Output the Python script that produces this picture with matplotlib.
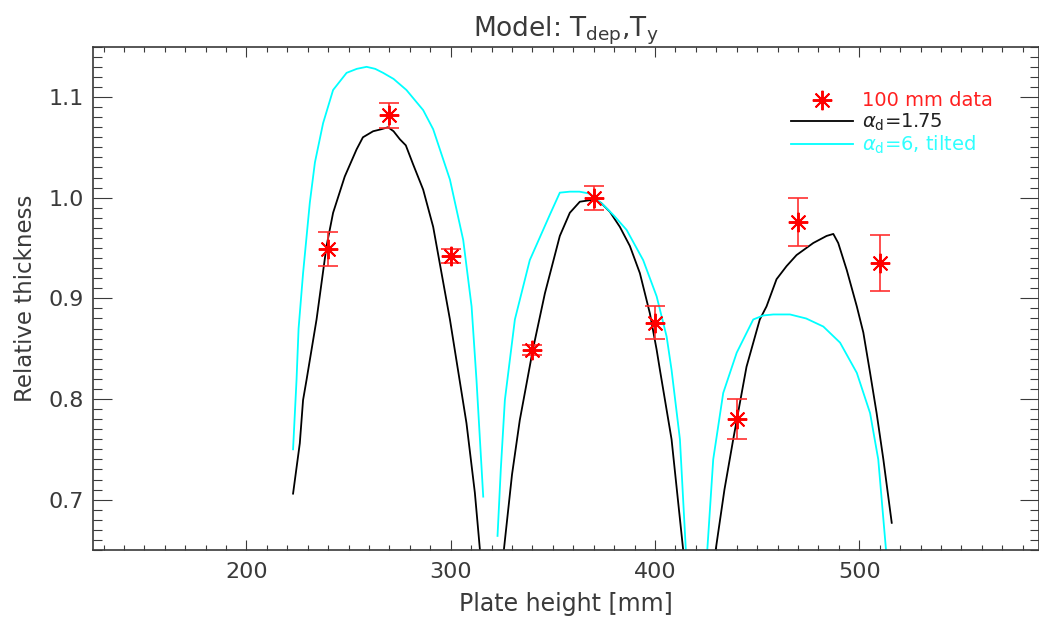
import numpy as np
import matplotlib
matplotlib.use("Agg")
import matplotlib.pyplot as plt
from matplotlib.lines import Line2D
from matplotlib.ticker import MultipleLocator

# measured data, 100 mm plate
data_x = [240, 270, 300, 340, 370, 400, 440, 470, 510]
data_y = [0.949, 1.082, 0.942, 0.849, 1.000, 0.876, 0.780, 0.976, 0.935]
data_err = [0.017, 0.0125, 0.007, 0.005, 0.012, 0.016, 0.020, 0.024, 0.028]

# model alpha_d = 1.75 (three plate sections)
black1_x = [222.8, 226.1, 227.7, 229.4, 234.3, 239.2, 242.4, 248.1, 253.9, 257, 262, 266, 269.3,
            272, 275.1, 278, 281.6, 286.5, 291.4, 299.6, 307.7, 311.8, 314.3]
black1_y = [0.706, 0.756, 0.799, 0.819, 0.879, 0.952, 0.985, 1.021, 1.048, 1.060, 1.066, 1.068, 1.070,
            1.066, 1.058, 1.052, 1.033, 1.008, 0.971, 0.879, 0.776, 0.707, 0.650]
black2_x = [326.0, 330, 333.8, 340.2, 346.1, 353.4, 358.3, 363.2, 369.7, 373.5, 377.9, 382.8, 387.7,
            392.6, 397.5, 400.8, 402.4, 408.1, 413.8]
black2_y = [0.650, 0.725, 0.779, 0.849, 0.905, 0.962, 0.985, 0.996, 0.998, 0.995, 0.986, 0.971, 0.952,
            0.925, 0.885, 0.849, 0.829, 0.760, 0.650]
black3_x = [429.7, 434, 438.3, 444.8, 451.3, 454.6, 459.5, 464.4, 469.3, 477.5, 484, 487.3, 489.7,
            493.9, 498.8, 502, 505.3, 508.5, 511.8, 515.9]
black3_y = [0.650, 0.710, 0.760, 0.832, 0.879, 0.892, 0.919, 0.932, 0.943, 0.955, 0.962, 0.964, 0.955,
            0.928, 0.892, 0.866, 0.826, 0.786, 0.740, 0.677]

# model alpha_d = 6, tilted
cyan1_x = [222.8, 224.5, 225.5, 227.7, 231, 233.5, 237.5, 242.4, 249, 254, 258.8, 263, 266.9,
           272, 278.3, 286.5, 291.4, 299.6, 306.1, 310.2, 312.6, 315.9]
cyan1_y = [0.750, 0.819, 0.870, 0.925, 0.995, 1.035, 1.074, 1.107, 1.124, 1.128, 1.130, 1.128, 1.124,
           1.118, 1.107, 1.087, 1.068, 1.018, 0.958, 0.892, 0.819, 0.703]
cyan2_x = [322.9, 324.5, 326.5, 331.4, 338.7, 348.5, 353.4, 358.3, 363, 368.1, 374.6, 380, 386.1,
           394.2, 400.8, 405.7, 408.1, 412.2, 415.1]
cyan2_y = [0.664, 0.730, 0.799, 0.879, 0.938, 0.983, 1.005, 1.006, 1.006, 1.004, 0.993, 0.982, 0.968,
           0.938, 0.902, 0.862, 0.829, 0.760, 0.650]
cyan3_x = [425.6, 428.5, 433.4, 440, 448.1, 453, 457.9, 466.1, 474, 482.4, 490.6, 498.8, 505.3,
           509.3, 513.1]
cyan3_y = [0.650, 0.740, 0.806, 0.846, 0.879, 0.883, 0.884, 0.884, 0.880, 0.872, 0.856, 0.826, 0.786,
           0.740, 0.650]

txt = "#3a3a3a"
plt.rcParams["font.family"] = ["DejaVu Sans"]

fig = plt.figure(figsize=(10.39, 6.2), dpi=100)
ax = fig.add_axes([93.3 / 1039, 1 - 550 / 620, 1 - 93.3 / 1039, (550 - 46.7) / 620])

for xs, ys in [(black1_x, black1_y), (black2_x, black2_y), (black3_x, black3_y)]:
    ax.plot(xs, ys, color="black", lw=1.3)
for xs, ys in [(cyan1_x, cyan1_y), (cyan2_x, cyan2_y), (cyan3_x, cyan3_y)]:
    ax.plot(xs, ys, color="#00ffff", lw=1.3)

ax.errorbar(data_x, data_y, yerr=data_err, fmt="none", ecolor="#ff3030", elinewidth=1.2,
            capsize=7, capthick=1.2, zorder=4)
ax.plot(data_x, data_y, ls="none", marker=(8, 2, 0), ms=14, mew=1.4, color="#ff0000", zorder=5)

ax.set_xlim(125, 588)
ax.set_ylim(0.65, 1.15)
ax.xaxis.set_major_locator(MultipleLocator(100))
ax.xaxis.set_minor_locator(MultipleLocator(10))
ax.yaxis.set_major_locator(MultipleLocator(0.1))
ax.yaxis.set_minor_locator(MultipleLocator(0.01))
ax.yaxis.set_major_formatter(matplotlib.ticker.FormatStrFormatter("%.1f"))

ax.tick_params(axis="both", which="both", direction="in", top=True, right=True,
               width=0.8, color=txt, labelcolor=txt, labelsize=16)
ax.tick_params(axis="x", which="major", length=7.2, pad=9)
ax.tick_params(axis="x", which="minor", length=3.6)
ax.tick_params(axis="y", which="major", length=13.7, pad=7)
ax.tick_params(axis="y", which="minor", length=6.5)
for s in ax.spines.values():
    s.set_linewidth(1.2)
    s.set_color(txt)

ax.set_xlabel("Plate height [mm]", fontsize=17, color=txt, labelpad=7)
ax.set_ylabel("Relative thickness", fontsize=16.5, color=txt, labelpad=8)
ax.set_title(r"Model: T$_\mathregular{dep}$,T$_\mathregular{y}$", fontsize=19, color=txt, pad=5)

handles = [
    Line2D([], [], ls="none", marker=(8, 2, 0), ms=14, mew=1.4, color="#ff0000"),
    Line2D([], [], color="black", lw=1.3),
    Line2D([], [], color="#00ffff", lw=1.3),
]
labels = ["100 mm data", r"$\alpha_\mathregular{d}$=1.75", r"$\alpha_\mathregular{d}$=6, tilted"]
leg = ax.legend(handles, labels, loc="upper right", bbox_to_anchor=(0.951, 0.911), frameon=False,
                fontsize=14, handlelength=3.2, handletextpad=0.45, labelspacing=0.05,
                borderpad=0, borderaxespad=0)
for t, c in zip(leg.get_texts(), ["#ff2020", "#222222", "#30ffff"]):
    t.set_color(c)

fig.savefig("out.png", dpi=100)
